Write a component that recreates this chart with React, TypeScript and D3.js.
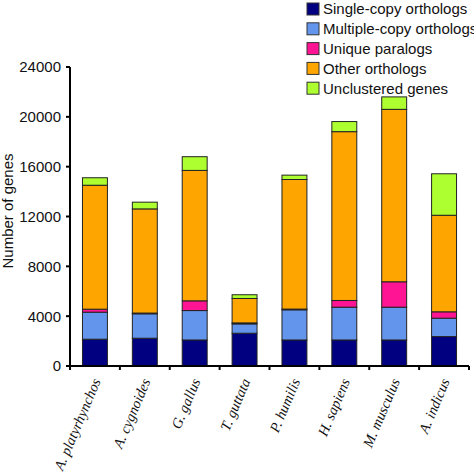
import * as d3 from "d3"

const species = [
  "A. platyrhynchos",
  "A. cygnoides",
  "G. gallus",
  "T. guttata",
  "P. humilis",
  "H. sapiens",
  "M. musculus",
  "A. indicus",
]

const seriesNames = [
  "Single-copy orthologs",
  "Multiple-copy orthologs",
  "Unique paralogs",
  "Other orthologs",
  "Unclustered genes",
]

const seriesColors = ["#000080", "#6495ED", "#FF1493", "#FFA500", "#ADFF2F"]

const singleCopy = [2150, 2230, 2090, 2630, 2090, 2090, 2090, 2360]
const multipleCopy = [2170, 1960, 2360, 750, 2420, 2630, 2630, 1480]
const uniqueParalogs = [240, 60, 780, 80, 60, 540, 2040, 510]
const otherOrthologs = [9950, 8360, 10470, 1960, 10400, 13550, 13840, 7750]
const unclustered = [600, 540, 1100, 300, 350, 810, 1000, 3330]

const yTicks = [0, 4000, 8000, 12000, 16000, 20000, 24000]

export default function App() {
  const width = 474
  const height = 474
  const margin = { left: 70, right: 5, top: 67, bottom: 108 }

  const rows = species.map((name, i) => ({
    name,
    s0: singleCopy[i],
    s1: multipleCopy[i],
    s2: uniqueParalogs[i],
    s3: otherOrthologs[i],
    s4: unclustered[i],
  }))

  const keys = ["s0", "s1", "s2", "s3", "s4"]
  const stacked = d3.stack<any>().keys(keys)(rows)

  const x = d3
    .scaleBand()
    .domain(species)
    .range([margin.left, width - margin.right])
    .paddingInner(0.5)
    .paddingOuter(0.25)

  const y = d3
    .scaleLinear()
    .domain([0, 24000])
    .range([height - margin.bottom, margin.top])

  const x0 = x.range()[0]
  const x1 = x.range()[1]
  const y0 = y(0)

  return (
    <svg
      width={width}
      height={height}
      style={{ position: "fixed", left: 0, top: 0, background: "white" }}
      fontFamily="Liberation Sans, Arial, sans-serif"
    >
      {/* stacked bars */}
      {stacked.map((layer, li) => (
        <g key={li} fill={seriesColors[li]}>
          {layer.map((d, i) => (
            <rect
              key={i}
              x={x(species[i])}
              y={y(d[1])}
              width={x.bandwidth()}
              height={y(d[0]) - y(d[1])}
              stroke="#222"
              strokeWidth={1}
            />
          ))}
        </g>
      ))}

      {/* y axis */}
      <line x1={x0} x2={x0} y1={y(24000)} y2={y0} stroke="#000" strokeWidth={2} />
      {yTicks.map((t) => (
        <g key={t}>
          <line x1={x0 - 4} x2={x0} y1={y(t)} y2={y(t)} stroke="#000" strokeWidth={2} />
          <text x={x0 - 9} y={y(t)} dy="0.36em" textAnchor="end" fontSize={15} fill="#111">
            {t}
          </text>
        </g>
      ))}
      <text
        transform="translate(13,211) rotate(-90)"
        textAnchor="middle"
        fontSize={15}
        fill="#111"
      >
        Number of genes
      </text>

      {/* x axis */}
      <line x1={x0} x2={x1} y1={y0} y2={y0} stroke="#000" strokeWidth={2} />
      {d3.range(species.length + 1).map((i) => (
        <line
          key={i}
          x1={x0 + i * x.step()}
          x2={x0 + i * x.step()}
          y1={y0}
          y2={y0 + 4}
          stroke="#000"
          strokeWidth={2}
        />
      ))}
      {species.map((s) => (
        <text
          key={s}
          transform={`translate(${(x(s) ?? 0) + x.bandwidth() / 2 + 6},${y0 + 15}) rotate(-67)`}
          textAnchor="end"
          fontFamily="Liberation Serif, Times New Roman, serif"
          fontStyle="italic"
          fontSize={14.5}
          fill="#111"
        >
          {s}
        </text>
      ))}

      {/* legend */}
      {seriesNames.map((n, i) => (
        <g key={n} transform={`translate(307,${9 + i * 19.8})`}>
          <rect x={0} y={-6} width={12} height={12} fill={seriesColors[i]} stroke="#333" strokeWidth={1} />
          <text x={16} y={0} dy="0.36em" fontSize={15} fill="#111">
            {n}
          </text>
        </g>
      ))}
    </svg>
  )
}
